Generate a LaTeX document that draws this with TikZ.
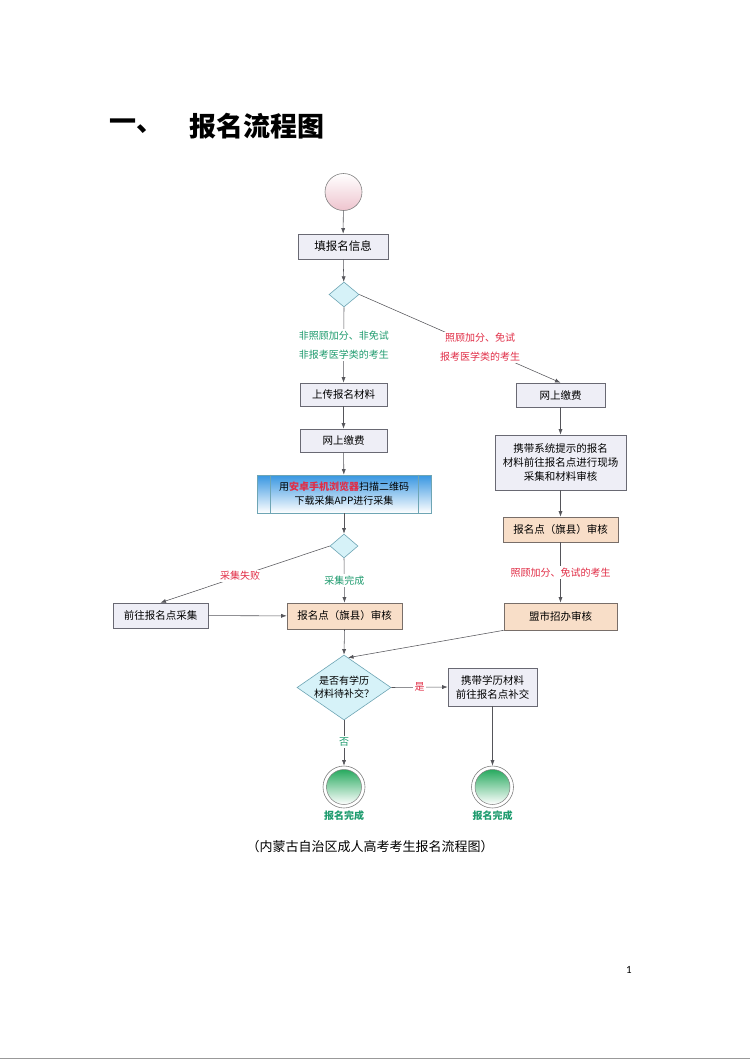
\documentclass[tikz,border=0pt]{standalone}
\usepackage{fontspec}
\setmainfont{Noto Sans CJK SC}
\newfontfamily\numfont{Carlito}
\usetikzlibrary{shapes.geometric,arrows.meta}
\definecolor{boxfill}{RGB}{238,238,246}
\definecolor{boxline}{RGB}{105,105,115}
\definecolor{peachfill}{RGB}{248,222,200}
\definecolor{peachline}{RGB}{120,110,105}
\definecolor{diafill}{RGB}{214,242,248}
\definecolor{dialine}{RGB}{110,165,180}
\definecolor{lineclr}{RGB}{85,85,90}
\definecolor{lblgreen}{RGB}{30,155,110}
\definecolor{lblred}{RGB}{225,45,70}
\definecolor{pinkc}{RGB}{238,196,206}
\definecolor{greenc}{RGB}{40,170,95}
\definecolor{bluetop}{RGB}{55,150,225}
\definecolor{bluemid}{RGB}{200,230,248}
\tikzset{
 box/.style={draw=boxline, fill=boxfill, line width=0.6pt, inner sep=0pt,
   font=\fontsize{10.5}{14}\selectfont, align=center},
 peach/.style={box, fill=peachfill, draw=peachline},
 dia/.style={diamond, draw=dialine, fill=diafill, inner sep=0pt, line width=0.6pt},
 conn/.style={draw=lineclr, line width=0.55pt},
 arr/.style={conn, -{Latex[length=5.5pt,width=4pt]}},
 lbl/.style={fill=white, inner sep=1.5pt, font=\fontsize{10}{19}\selectfont, align=center},
 endc/.style={circle, draw=gray, fill=white, line width=0.6pt, minimum size=42pt, inner sep=0pt},
 endi/.style={circle, draw=gray, line width=0.5pt, minimum size=35pt, inner sep=0pt,
   top color=greenc, middle color=greenc!45, bottom color=white},
 donelbl/.style={text=lblgreen, font=\fontsize{10}{12}\selectfont\bfseries},
}
\begin{document}
\begin{tikzpicture}[x=1pt,y=-1pt]
\useasboundingbox (0,0) rectangle (750,1060);
% title
\node[anchor=west, font=\fontsize{27}{30}\selectfont\bfseries] (tnum) at (106,126) {一、};
\node[anchor=west, font=\fontsize{27}{30}\selectfont\bfseries] (title) at (186,126) {报名流程图};
% left column
\node[circle, draw=gray, line width=0.6pt, minimum size=37pt, inner sep=0pt,
  top color=white, middle color=white, bottom color=pinkc] (start) at (343.5,192) {};
\node[box, minimum width=90pt, minimum height=25pt, font=\fontsize{11.5}{14}\selectfont] (fill) at (343,246.5) {填报名信息};
\node[dia, minimum width=30pt, minimum height=25pt] (d1) at (344,294.5) {};
\node[box, minimum width=87pt, minimum height=23pt] (upload) at (343.5,394.5) {上传报名材料};
\node[box, minimum width=87pt, minimum height=23pt] (pay1) at (343.5,440.5) {网上缴费};
\node[draw=dialine, line width=0.6pt, minimum width=174pt, minimum height=38pt, inner sep=0pt,
  top color=bluetop, middle color=bluemid, bottom color=white, align=center,
  font=\fontsize{10}{14}\selectfont] (scan) at (344,494)
  {用{\color{lblred}\bfseries 安卓手机浏览器}扫描二维码\\下载采集APP进行采集};
\draw[draw=dialine, line width=0.5pt] ([xshift=14pt]scan.north west) -- ([xshift=14pt]scan.south west);
\draw[draw=dialine, line width=0.5pt] ([xshift=-13pt]scan.north east) -- ([xshift=-13pt]scan.south east);
\node[dia, minimum width=28pt, minimum height=24pt] (d2) at (344,546) {};
\node[box, minimum width=95pt, minimum height=25pt] (goto) at (160.5,615.5) {前往报名点采集};
\node[peach, minimum width=115pt, minimum height=26pt] (rev1) at (344.5,616) {报名点（旗县）审核};
\node[dia, minimum width=94pt, minimum height=65pt,
  label={[align=center, font=\fontsize{10}{13}\selectfont]center:是否有学历\\材料待补交？}] (d3) at (344,687.5) {};
\node[box, minimum width=89pt, minimum height=38pt] (bring) at (492.5,687) {携带学历材料\\前往报名点补交};
\node[endc] (end1) at (344,787) {};
\node[endi] (end1i) at (end1) {};
\node[endc] (end2) at (492.5,787) {};
\node[endi] (end2i) at (end2) {};
\node[donelbl] (done1) at (344,815.5) {报名完成};
\node[donelbl] (done2) at (492.5,815.5) {报名完成};
% right column
\node[box, minimum width=89pt, minimum height=24pt] (pay2) at (560.5,395) {网上缴费};
\node[box, minimum width=131pt, minimum height=55pt] (carry) at (560.5,462.5) {携带系统提示的报名\\材料前往报名点进行现场\\采集和材料审核};
\node[peach, minimum width=115pt, minimum height=25pt] (rev2) at (560.5,529.5) {报名点（旗县）审核};
\node[peach, minimum width=113pt, minimum height=27pt] (city) at (560.5,616.5) {盟市招办审核};
% connectors
\draw[arr] (start) -- (fill);
\draw[arr] (fill) -- (d1);
\draw[arr] (d1.south) -- (upload.north) node[lbl, midway, text=lblgreen] {非照顾加分、非免试\\非报考医学类的考生};
\draw[arr] (d1.east) -- (pay2.north) node[lbl, pos=0.6, text=lblred] {照顾加分、免试\\报考医学类的考生};
\draw[arr] (upload) -- (pay1);
\draw[arr] (pay1) -- (scan);
\draw[arr] (scan) -- (d2);
\draw[arr] (d2.west) -- (goto.north) node[lbl, pos=0.53, text=lblred] {采集失败};
\draw[arr] (d2.south) -- (rev1.north) node[lbl, midway, text=lblgreen] {采集完成};
\draw[arr] (goto) -- (rev1);
\draw[arr] (pay2) -- (carry);
\draw[arr] (carry) -- (rev2);
\draw[arr] (rev2.south) -- (city.north) node[lbl, midway, text=lblred] {照顾加分、免试的考生};
\draw[arr] (rev1.south) -- (d3.north);
\draw[arr] (city.south west) -- ([xshift=4pt,yshift=-3pt]d3.north);
\draw[arr] (d3.east) -- (bring.west) node[lbl, midway, text=lblred] {是};
\draw[arr] (d3.south) -- (end1.north) node[lbl, pos=0.48, text=lblgreen] {否};
\draw[arr] (bring.south) -- (end2.north);
% caption and page
\node[font=\fontsize{13}{15}\selectfont] (caption) at (370,847) {（内蒙古自治区成人高考考生报名流程图）};
\node[font=\numfont\fontsize{11}{13}\selectfont] (page) at (629,970) {1};
\draw[draw=gray!80, line width=1.5pt] (0,1058.5) -- (750,1058.5);
\end{tikzpicture}
\end{document}
